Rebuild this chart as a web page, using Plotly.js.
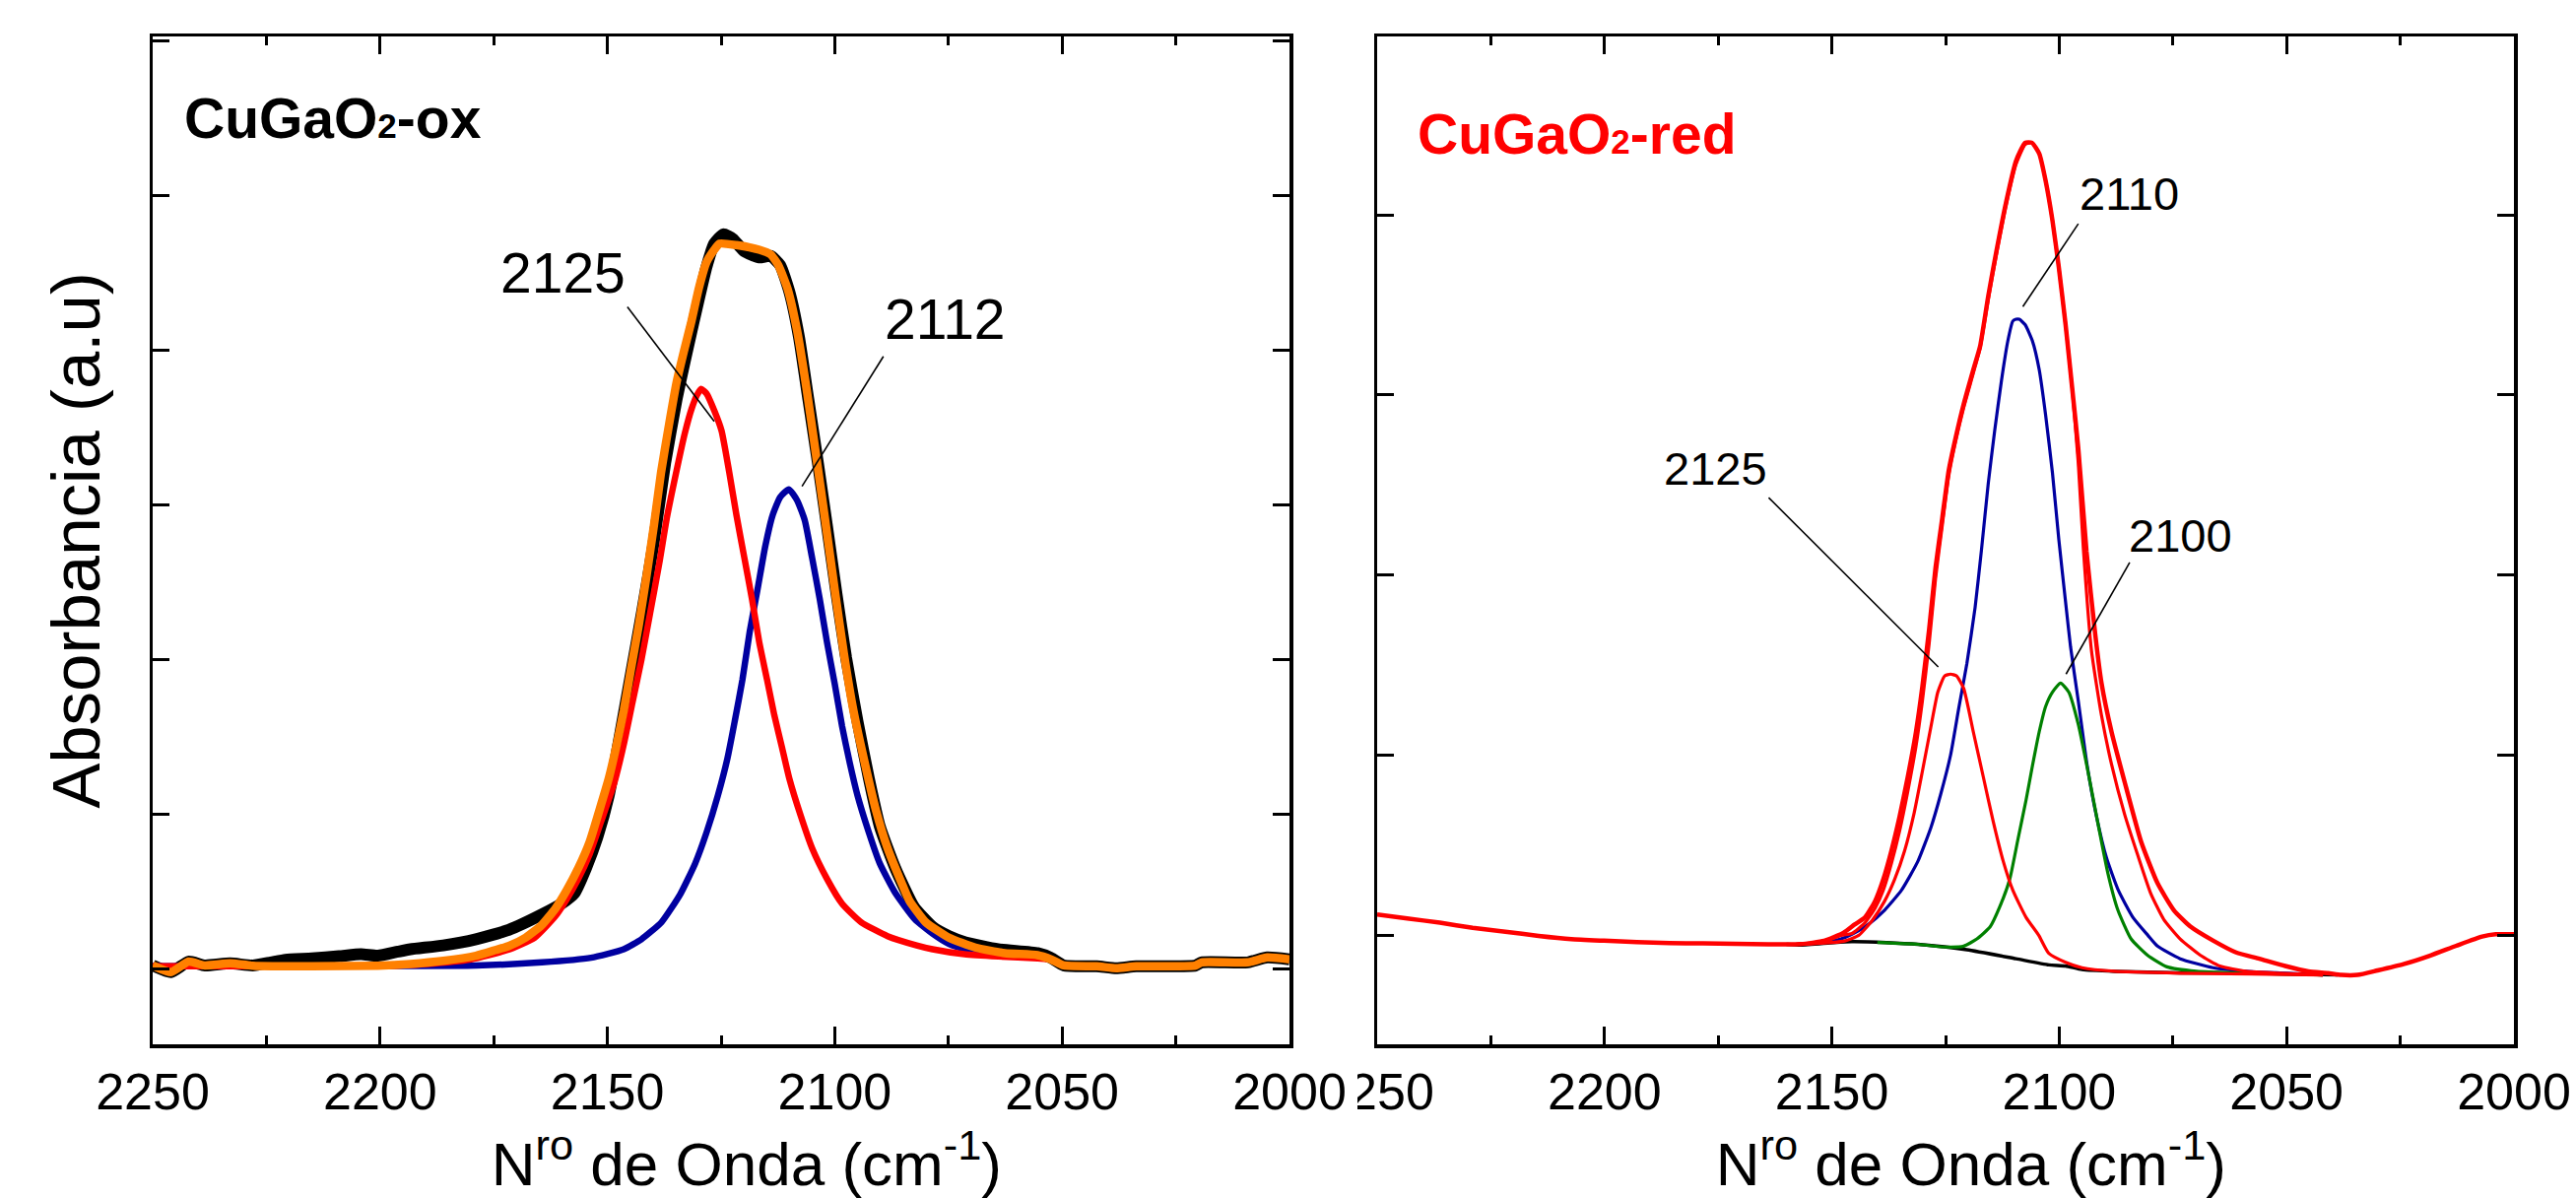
<!DOCTYPE html>
<html>
<head>
<meta charset="utf-8">
<script src="https://cdn.plot.ly/plotly-3.0.1.min.js"></script>
<style>
  html, body { margin: 0; padding: 0; background: #ffffff; }
  #wrap { position: relative; width: 2615px; height: 1216px; overflow: hidden; background: #fff; }
  #left { position: absolute; left: 0; top: 0; width: 1378px; height: 1216px; overflow: hidden; }
  #right { position: absolute; left: 1378px; top: 0; width: 1237px; height: 1216px; overflow: hidden; background: #fff; }
</style>
</head>
<body>
<div id="wrap"><div id="left"></div><div id="right"></div></div>
<script>
// ---------------- Left panel: CuGaO2-ox ----------------
const OX_DATA_WN = [2250, 2246.0, 2242.1, 2238.5, 2233.0, 2228.0, 2224, 2220.8, 2215.0, 2209, 2204.2, 2200.5, 2196, 2193.3, 2186.1, 2178.9, 2171.7, 2164.4, 2160.1, 2157.2, 2154.7, 2152.2, 2149.7, 2147.3, 2144.8, 2142.3, 2139.8, 2137.3, 2134.8, 2132.3, 2129.9, 2128.2, 2126.5, 2124.5, 2122.4, 2119.9, 2116.6, 2114.1, 2112.0, 2110.0, 2107.9, 2105.8, 2103.7, 2101.7, 2099.6, 2097.5, 2095.0, 2092.5, 2090.1, 2086.7, 2082.6, 2078.5, 2074.9, 2071.3, 2064.1, 2055.4, 2052.5, 2049.6, 2042.4, 2038.1, 2033.7, 2020.7, 2019.3, 2009.2, 2004.9, 2000];
const OX_DATA_ABS = [0.02, -0.023, 0.045, 0.02, 0.034, 0.02, 0.04, 0.057, 0.066, 0.08, 0.093, 0.083, 0.11, 0.125, 0.15, 0.19, 0.25, 0.35, 0.42, 0.49, 0.65, 0.85, 1.12, 1.50, 1.91, 2.32, 2.76, 3.27, 3.68, 4.02, 4.33, 4.54, 4.69, 4.75, 4.72, 4.64, 4.60, 4.61, 4.55, 4.38, 4.09, 3.68, 3.27, 2.86, 2.42, 2.01, 1.60, 1.23, 0.92, 0.65, 0.40, 0.27, 0.21, 0.17, 0.125, 0.10, 0.07, 0.02, 0.015, 0.002, 0.015, 0.019, 0.04, 0.04, 0.072, 0.06];

const OX_FIT_WN = [2250, 2246.0, 2242.1, 2238.5, 2233.0, 2228.0, 2215.0, 2200.5, 2193.3, 2186.1, 2178.9, 2174.6, 2171.7, 2168.0, 2164.5, 2161.4, 2158.9, 2156.4, 2153.9, 2151.4, 2149.7, 2148.1, 2146.4, 2144.8, 2143.1, 2141.5, 2139.8, 2138.2, 2136.5, 2134.8, 2133.2, 2131.5, 2129.9, 2128.2, 2126.5, 2125.3, 2121.6, 2116.6, 2114.1, 2112.4, 2110.4, 2108.3, 2106.2, 2104.2, 2102.1, 2100.0, 2098.0, 2095.9, 2093.4, 2090.9, 2088.4, 2085.1, 2083.6, 2080.0, 2074.9, 2069.1, 2062.6, 2055.4, 2052.5, 2049.6, 2042.4, 2038.1, 2033.7, 2020.7, 2019.3, 2009.2, 2004.9, 2000];
const OX_FIT_ABS = [0.02, -0.023, 0.045, 0.02, 0.034, 0.019, 0.015, 0.019, 0.03, 0.05, 0.083, 0.12, 0.146, 0.20, 0.28, 0.39, 0.51, 0.65, 0.82, 1.06, 1.23, 1.43, 1.67, 1.94, 2.22, 2.52, 2.86, 3.21, 3.51, 3.79, 3.99, 4.19, 4.40, 4.57, 4.65, 4.69, 4.68, 4.65, 4.62, 4.55, 4.40, 4.13, 3.75, 3.34, 2.90, 2.45, 2.04, 1.67, 1.33, 1.02, 0.78, 0.54, 0.44, 0.30, 0.20, 0.136, 0.10, 0.087, 0.06, 0.02, 0.015, 0.002, 0.015, 0.019, 0.04, 0.04, 0.072, 0.06];

const OX_P2125_WN = [2250, 2220, 2200, 2190, 2180, 2172, 2166, 2161.4, 2158.9, 2156.4, 2153.9, 2151.4, 2148.5, 2146.4, 2144.5, 2142.5, 2140.6, 2138.6, 2136.9, 2134.8, 2133.0, 2131.5, 2130.3, 2129.4, 2128.2, 2126.5, 2124.9, 2123.2, 2121.6, 2119.9, 2118.2, 2116.6, 2114.9, 2113.3, 2111.6, 2110.0, 2107.5, 2105.0, 2101.7, 2098.4, 2094.2, 2088.4, 2082, 2078.5, 2071.5, 2064, 2055.4, 2052.5];
const OX_P2125_ABS = [0.015, 0.015, 0.017, 0.03, 0.06, 0.12, 0.2, 0.34, 0.45, 0.58, 0.74, 0.95, 1.2, 1.45, 1.72, 2.0, 2.3, 2.62, 2.92, 3.22, 3.46, 3.62, 3.71, 3.75, 3.72, 3.61, 3.48, 3.21, 2.93, 2.66, 2.39, 2.11, 1.87, 1.64, 1.43, 1.23, 0.99, 0.78, 0.58, 0.42, 0.30, 0.21, 0.15, 0.125, 0.093, 0.078, 0.066, 0.06];

const OX_P2112_WN = [2250, 2200, 2178.9, 2164.4, 2153.6, 2146.4, 2142.5, 2138.1, 2134.0, 2130.7, 2128.2, 2125.7, 2123.6, 2122.0, 2120.3, 2118.7, 2117.0, 2115.3, 2113.7, 2112.0, 2110.1, 2108.3, 2106.6, 2105.0, 2103.3, 2101.7, 2100.0, 2098.4, 2096.7, 2095.0, 2092.5, 2090.1, 2086.7, 2082.4, 2078.2, 2074.9, 2071.3, 2067.7, 2063.5, 2055.2, 2052.5];
const OX_P2112_ABS = [0.015, 0.017, 0.02, 0.04, 0.07, 0.125, 0.19, 0.30, 0.48, 0.68, 0.88, 1.12, 1.36, 1.60, 1.87, 2.18, 2.45, 2.73, 2.93, 3.05, 3.10, 3.03, 2.90, 2.66, 2.39, 2.11, 1.84, 1.57, 1.33, 1.12, 0.88, 0.68, 0.49, 0.32, 0.22, 0.16, 0.125, 0.10, 0.09, 0.08, 0.07];

const OX_LABELS = ["2125", "2112"];
const OX_LABEL_WN = [2159.7, 2075.8];
const OX_LABEL_ABS = [4.50, 4.20];
const OX_LEADER_FROM_WN = [2145.6, 2089.3];
const OX_LEADER_FROM_ABS = [4.28, 3.96];
const OX_LEADER_TO_WN = [2126.5, 2107.2];
const OX_LEADER_TO_ABS = [3.54, 3.12];

// ---------------- Right panel: CuGaO2-red ----------------
const RED_DATA_WN = [2250, 2243.4, 2236.2, 2229.0, 2221.8, 2214.5, 2207.3, 2200.1, 2192.9, 2185.7, 2178.4, 2171.2, 2164.0, 2156.8, 2151.7, 2147.4, 2145.0, 2142.7, 2140.5, 2138.7, 2136.9, 2135.1, 2133.3, 2131.5, 2130.1, 2128.6, 2127.2, 2125.7, 2124.3, 2122.8, 2121.0, 2118.9, 2117.4, 2115.6, 2113.8, 2111.6, 2109.5, 2107.5, 2106.0, 2104.4, 2103.0, 2101.5, 2100.1, 2098.6, 2097.2, 2095.8, 2094.0, 2092.1, 2090.7, 2088.5, 2085.6, 2082.0, 2078.4, 2074.8, 2071.2, 2066.1, 2061.1, 2056.0, 2050.3, 2045.2, 2040.9, 2038.0, 2034.4, 2030.0, 2024.3, 2018.5, 2012.7, 2007.0, 2004.0, 2000];
const RED_DATA_ABS = [0.115, 0.094, 0.07, 0.042, 0.02, -0.003, -0.021, -0.03, -0.038, -0.043, -0.045, -0.047, -0.05, -0.049, -0.03, 0.015, 0.06, 0.10, 0.19, 0.31, 0.47, 0.66, 0.88, 1.13, 1.38, 1.70, 2.04, 2.32, 2.58, 2.76, 2.95, 3.14, 3.27, 3.55, 3.80, 4.08, 4.30, 4.40, 4.40, 4.34, 4.19, 3.97, 3.71, 3.39, 3.05, 2.70, 2.13, 1.675, 1.40, 1.13, 0.85, 0.52, 0.29, 0.14, 0.05, -0.03, -0.095, -0.13, -0.17, -0.20, -0.21, -0.22, -0.22, -0.195, -0.16, -0.113, -0.058, -0.007, 0.006, 0.006];

const RED_FIT_WN = [2158, 2152, 2148, 2145.6, 2142.7, 2140.5, 2138.7, 2136.9, 2135.1, 2133.3, 2131.5, 2130.1, 2128.6, 2127.2, 2125.7, 2124.3, 2122.8, 2121.0, 2118.9, 2117.4, 2115.6, 2113.8, 2111.6, 2109.5, 2107.5, 2106.0, 2104.4, 2103.0, 2101.5, 2100.1, 2098.6, 2097.2, 2095.8, 2094.7, 2092.9, 2090.7, 2088.5, 2085.6, 2082.8, 2079.9, 2077.0, 2073.4, 2069.0, 2064.7, 2058.9, 2051.7, 2042];
const RED_FIT_ABS = [-0.05, -0.04, 0.0, 0.01, 0.07, 0.15, 0.25, 0.40, 0.58, 0.80, 1.05, 1.30, 1.62, 1.98, 2.28, 2.55, 2.74, 2.93, 3.12, 3.26, 3.53, 3.78, 4.06, 4.28, 4.39, 4.40, 4.34, 4.19, 3.97, 3.71, 3.39, 3.05, 2.62, 2.15, 1.58, 1.22, 0.95, 0.67, 0.45, 0.234, 0.088, -0.02, -0.11, -0.17, -0.20, -0.21, -0.22];

const RED_P2125_WN = [2158, 2150, 2147, 2144.1, 2141.2, 2138.4, 2136.2, 2134.0, 2131.9, 2130.1, 2128.2, 2126.7, 2125.2, 2123.9, 2122.6, 2121.0, 2118.9, 2116.7, 2114.5, 2112.3, 2110.2, 2107.3, 2104.5, 2102.3, 2098.6, 2095.0, 2087.8, 2073.4, 2042];
const RED_P2125_ABS = [-0.05, -0.04, -0.03, 0.0, 0.08, 0.19, 0.31, 0.47, 0.68, 0.91, 1.16, 1.35, 1.44, 1.45, 1.44, 1.37, 1.13, 0.88, 0.63, 0.41, 0.25, 0.10, 0.0, -0.10, -0.15, -0.18, -0.20, -0.21, -0.22];

const RED_P2110_WN = [2158, 2152, 2148, 2145.6, 2142.0, 2138.4, 2134.7, 2131.1, 2128.2, 2126.1, 2123.9, 2122.1, 2120.3, 2118.5, 2117.1, 2115.6, 2114.2, 2112.7, 2111.3, 2110.2, 2109.5, 2108.8, 2107.5, 2105.9, 2104.4, 2103.0, 2101.5, 2100.1, 2098.6, 2097.5, 2095.8, 2093.9, 2091.8, 2089.6, 2087.0, 2083.8, 2080.5, 2078.4, 2073.4, 2066.2, 2058.9, 2050, 2042];
const RED_P2110_ABS = [-0.05, -0.04, -0.02, 0.006, 0.06, 0.14, 0.25, 0.41, 0.60, 0.78, 1.00, 1.26, 1.51, 1.82, 2.14, 2.51, 2.80, 3.08, 3.30, 3.41, 3.42, 3.42, 3.39, 3.30, 3.14, 2.89, 2.57, 2.20, 1.85, 1.60, 1.30, 0.95, 0.66, 0.43, 0.25, 0.10, 0.0, -0.06, -0.13, -0.18, -0.20, -0.21, -0.22];

const RED_P2100_WN = [2140, 2131, 2125, 2121, 2118.1, 2115.2, 2113.1, 2110.9, 2109.1, 2107.3, 2105.9, 2104.4, 2103.0, 2101.5, 2099.7, 2097.9, 2095.8, 2093.6, 2091.4, 2089.3, 2087.1, 2084.2, 2080.6, 2076.3, 2069.8, 2060, 2042];
const RED_P2100_ABS = [-0.04, -0.05, -0.065, -0.06, -0.02, 0.047, 0.157, 0.31, 0.53, 0.75, 0.94, 1.13, 1.27, 1.35, 1.40, 1.35, 1.17, 0.90, 0.61, 0.345, 0.14, -0.02, -0.11, -0.175, -0.20, -0.21, -0.22];

const RED_BASE_WN = [2160, 2156.8, 2149.5, 2145.6, 2138.0, 2131.1, 2120.3, 2109.5, 2102.3, 2098.6, 2095.0, 2087.8, 2073.4, 2058.9, 2038.7];
const RED_BASE_ABS = [-0.05, -0.054, -0.04, -0.035, -0.04, -0.05, -0.08, -0.13, -0.164, -0.17, -0.19, -0.20, -0.208, -0.21, -0.22];

const RED_LABELS = ["2110", "2100", "2125"];
const RED_LABEL_WN = [2084.5, 2073.4, 2175.5];
const RED_LABEL_ABS = [4.12, 2.22, 2.59];
const RED_LEADER_FROM_WN = [2095.8, 2084.5, 2163.9];
const RED_LEADER_FROM_ABS = [3.95, 2.07, 2.43];
const RED_LEADER_TO_WN = [2108.0, 2098.5, 2126.6];
const RED_LEADER_TO_ABS = [3.49, 1.45, 1.49];

// tick labels
const X_TICKS = [2250, 2200, 2150, 2100, 2050, 2000];
const X_TICK_TEXT = ["2250", "2200", "2150", "2100", "2050", "2000"];

// ---------------- styles ----------------
const FONT = 'Liberation Sans, Arial, Helvetica, sans-serif';
const XTITLE = '&nbsp;&nbsp;&nbsp;N<sup>ro</sup> de Onda (cm<sup>-1</sup>)';

function line(x, y, color, width) {
  return { x: x, y: y, type: 'scatter', mode: 'lines', hoverinfo: 'skip',
           line: { color: color, width: width, shape: 'spline', smoothing: 0.5 } };
}

function xAxis() {
  return {
    range: [2250, 2000], showline: true, linecolor: '#000', linewidth: 3.5, mirror: 'ticks',
    ticks: 'inside', ticklen: 18, tickwidth: 3, tickcolor: '#000',
    tickvals: X_TICKS, ticktext: X_TICK_TEXT, ticklabelstandoff: 0, ticklabeloverflow: 'allow',
    minor: { dtick: 25, tick0: 2000, ticks: 'inside', ticklen: 9, tickwidth: 3, tickcolor: '#000' },
    tickfont: { family: FONT, size: 52, color: '#000' },
    showgrid: false, zeroline: false, fixedrange: true,
    title: { text: XTITLE, font: { family: FONT, size: 62, color: '#000' }, standoff: 30 }
  };
}
function yAxis(range, title) {
  const a = {
    range: range, showline: true, linecolor: '#000', linewidth: 3.5, mirror: 'ticks',
    ticks: 'inside', ticklen: 17, tickwidth: 3, tickcolor: '#000', dtick: 1, tick0: 0,
    showticklabels: false, showgrid: false, zeroline: false, fixedrange: true
  };
  if (title) a.title = { text: title, font: { family: FONT, size: 69, color: '#000' }, standoff: 28 };
  return a;
}
function peakLabels(texts, wn, ab, fwn, fab, twn, tab, size) {
  const ann = [], shp = [];
  for (let i = 0; i < texts.length; i++) {
    ann.push({ x: wn[i], y: ab[i], xref: 'x', yref: 'y', text: texts[i], showarrow: false,
               xanchor: 'center', yanchor: 'middle', font: { family: FONT, size: size, color: '#000' } });
    shp.push({ type: 'line', xref: 'x', yref: 'y', x0: fwn[i], y0: fab[i], x1: twn[i], y1: tab[i],
               line: { color: '#000', width: 1.6 } });
  }
  return { ann: ann, shp: shp };
}

// ---------------- Left figure ----------------
const oxP = peakLabels(OX_LABELS, OX_LABEL_WN, OX_LABEL_ABS, OX_LEADER_FROM_WN, OX_LEADER_FROM_ABS, OX_LEADER_TO_WN, OX_LEADER_TO_ABS, 57);
oxP.ann.push({ x: 2243.5, y: 5.50, xref: 'x', yref: 'y', xanchor: 'left', yanchor: 'middle', showarrow: false,
  text: '<b>CuGaO<span style="font-size:35px">2</span>-ox</b>', font: { family: FONT, size: 57, color: '#000' } });

Plotly.newPlot('left', [
  line(OX_DATA_WN, OX_DATA_ABS, '#000000', 12),
  line(OX_P2112_WN, OX_P2112_ABS, '#0000A0', 6.5),
  line(OX_P2125_WN, OX_P2125_ABS, '#FF0000', 6.5),
  line(OX_FIT_WN, OX_FIT_ABS, '#FF8000', 8.5)
], {
  width: 1378, height: 1216, margin: { l: 155, r: 69, t: 37, b: 156 },
  paper_bgcolor: '#fff', plot_bgcolor: '#fff', showlegend: false,
  xaxis: xAxis(), yaxis: yAxis([-0.49, 6.03], 'Absorbancia (a.u)'),
  annotations: oxP.ann, shapes: oxP.shp
}, { staticPlot: true, displayModeBar: false });

// ---------------- Right figure ----------------
const rdP = peakLabels(RED_LABELS, RED_LABEL_WN, RED_LABEL_ABS, RED_LEADER_FROM_WN, RED_LEADER_FROM_ABS, RED_LEADER_TO_WN, RED_LEADER_TO_ABS, 47);
rdP.ann.push({ x: 2241.6, y: 4.45, xref: 'x', yref: 'y', xanchor: 'left', yanchor: 'middle', showarrow: false,
  text: '<b>CuGaO<span style="font-size:35px">2</span>-red</b>', font: { family: FONT, size: 57, color: '#FF0000' } });

Plotly.newPlot('right', [
  line(RED_BASE_WN, RED_BASE_ABS, '#000000', 3.5),
  line(RED_P2110_WN, RED_P2110_ABS, '#0000A0', 3.2),
  line(RED_P2100_WN, RED_P2100_ABS, '#008000', 3.2),
  line(RED_P2125_WN, RED_P2125_ABS, '#FF0000', 3.2),
  line(RED_FIT_WN, RED_FIT_ABS, '#FF0000', 3.2),
  line(RED_DATA_WN, RED_DATA_ABS, '#FF0000', 4.5)
], {
  width: 1237, height: 1216, margin: { l: 20, r: 63, t: 37, b: 156 },
  paper_bgcolor: '#fff', plot_bgcolor: '#fff', showlegend: false,
  xaxis: xAxis(), yaxis: yAxis([-0.605, 4.99], null),
  annotations: rdP.ann, shapes: rdP.shp
}, { staticPlot: true, displayModeBar: false });
</script>
</body>
</html>
